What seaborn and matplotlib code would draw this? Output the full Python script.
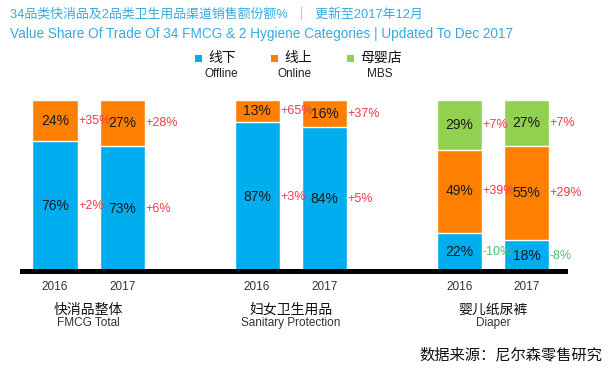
import matplotlib
matplotlib.use("Agg")
import matplotlib.pyplot as plt
import pandas as pd
import seaborn as sns
from matplotlib.patches import Rectangle

# data
years = ["2016", "2017"]
categories_cn = ["快消品整体", "妇女卫生用品", "婴儿纸尿裤"]
categories_en = ["FMCG Total", "Sanitary Protection", "Diaper"]
offline = [76, 73, 87, 84, 22, 18]
online = [24, 27, 13, 16, 49, 55]
mbs = [0, 0, 0, 0, 29, 27]
offline_growth = ["+2%", "+6%", "+3%", "+5%", "-10%", "-8%"]
online_growth = ["+35%", "+28%", "+65%", "+37%", "+39%", "+29%"]
mbs_growth = ["", "", "", "", "+7%", "+7%"]

series_cn = ["线下", "线上", "母婴店"]
series_en = ["Offline", "Online", "MBS"]
title_cn = "34品类快消品及2品类卫生用品渠道销售额份额%  ｜  更新至2017年12月"
title_en = "Value Share Of Trade Of 34 FMCG & 2 Hygiene Categories | Updated To Dec 2017"
source = "数据来源：尼尔森零售研究"

# layout
bar_pos = [0, 1, 3, 4, 6, 7]
BLUE = "#00AEEF"
ORANGE = "#FF8000"
GREEN = "#92D050"
TITLE_C = "#35AAE0"
RED = "#F23A4A"
POS_GREEN = "#4CBF72"

sns.set_theme(style="white")
plt.rcParams["font.family"] = ["Liberation Sans", "Noto Sans CJK SC", "DejaVu Sans"]

df = pd.DataFrame({"pos": bar_pos, "offline": offline, "online": online, "mbs": mbs})
df["top2"] = df["offline"] + df["online"]
df["top3"] = df["top2"] + df["mbs"]

W, H = 608, 371
fig = plt.figure(figsize=(W / 100, H / 100), dpi=100)
ax = fig.add_axes([22 / W, 100 / H, (565 - 22) / W, 171 / H])

# stacked bars: draw cumulative totals from top layer down
for col, c in [("top3", GREEN), ("top2", ORANGE), ("offline", BLUE)]:
    sns.barplot(data=df, x="pos", y=col, native_scale=True, width=0.67,
                color=c, saturation=1, errorbar=None, ax=ax)

ax.set_xlim(-0.49, 7.57)
ax.set_ylim(0, 100)
ax.set_xticks([])
ax.set_yticks([])
ax.set_xlabel("")
ax.set_ylabel("")
for s in ["top", "left", "right"]:
    ax.spines[s].set_visible(False)
ax.spines["bottom"].set_color("black")
ax.spines["bottom"].set_linewidth(3.6)

half = 0.335
for i, p in enumerate(bar_pos):
    segs = [(0, offline[i], offline_growth[i]),
            (offline[i], online[i], online_growth[i]),
            (offline[i] + online[i], mbs[i], mbs_growth[i])]
    for bottom, h, g in segs:
        if h == 0:
            continue
        mid = bottom + h / 2
        ax.text(p, mid, f"{h}%", ha="center", va="center", fontsize=10, color="#1a1a1a")
        gc = POS_GREEN if g.startswith("-") else RED
        ax.text(p + half + 0.01, mid, g, ha="left", va="center", fontsize=9, color=gc)

xt = ax.get_xaxis_transform()
for i, p in enumerate(bar_pos):
    ax.text(p, -0.094, years[i % 2], ha="center", va="center", fontsize=8.5,
            color="#333333", transform=xt)
for k in range(3):
    cx = (bar_pos[2 * k] + bar_pos[2 * k + 1]) / 2
    ax.text(cx, -0.228, categories_cn[k], ha="center", va="center", fontsize=10,
            color="#111111", transform=xt)
    ax.text(cx, -0.304, categories_en[k], ha="center", va="center", fontsize=8.5,
            color="#333333", transform=xt)

# titles
fig.text(10 / W, 1 - 15 / H, title_cn, ha="left", va="center", fontsize=9.3, color=TITLE_C)
fig.text(10 / W, 1 - 34 / H, title_en, ha="left", va="center", fontsize=9.8, color=TITLE_C)

# legend
for sq_x, c, cn, en, en_x in zip([195, 271, 347], [BLUE, ORANGE, GREEN], series_cn, series_en,
                                 [221, 295, 380]):
    fig.add_artist(Rectangle((sq_x / W, 1 - 61.5 / H), 7 / W, 7 / H,
                             transform=fig.transFigure, color=c, lw=0))
    fig.text((sq_x + 13) / W, 1 - 58 / H, cn, ha="left", va="center", fontsize=10,
             color="#111111")
    fig.text(en_x / W, 1 - 74 / H, en, ha="center", va="center", fontsize=8.5,
             color="#222222")

fig.text(602 / W, 1 - 355 / H, source, ha="right", va="center", fontsize=11, color="#111111")

fig.savefig("out.png", dpi=100)
